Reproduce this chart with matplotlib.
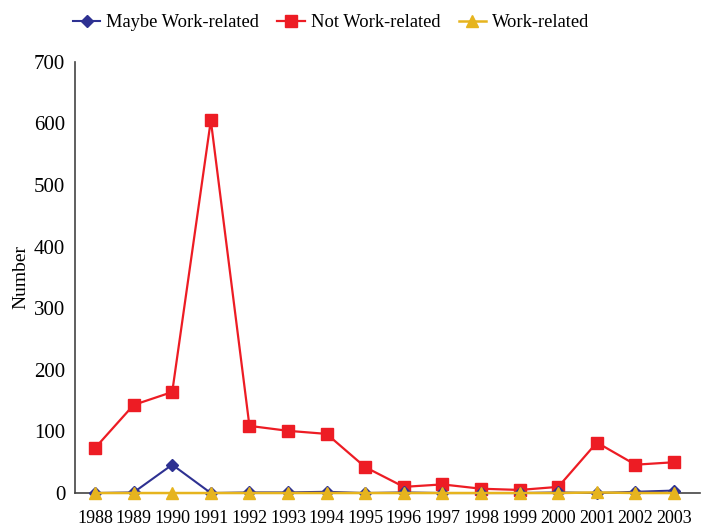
import matplotlib.pyplot as plt

years = list(range(1988, 2004))
maybe_work = [0, 1, 46, 0, 1, 1, 2, 0, 1, 0, 0, 0, 1, 0, 2, 4]
not_work = [73, 143, 164, 605, 109, 101, 96, 42, 10, 14, 7, 5, 10, 82, 46, 50]
work = [0, 0, 0, 0, 0, 0, 0, 0, 0, 0, 0, 0, 0, 1, 0, 0]

plt.rcParams["font.family"] = ["Liberation Serif", "DejaVu Serif"]

fig = plt.figure(figsize=(7.07, 5.29), dpi=100)
ax = fig.add_axes([0.106, 0.068, 0.884, 0.815])

ax.plot(years, maybe_work, color="#2E3192", marker="D", markersize=6.5, lw=1.5,
        label="Maybe Work-related", zorder=3, clip_on=False)
ax.plot(years, not_work, color="#ED1C24", marker="s", markersize=8, lw=1.6,
        label="Not Work-related", zorder=2, clip_on=False)
ax.plot(years, work, color="#E6B41E", marker="^", markersize=9, lw=1.8,
        label="Work-related", zorder=4, clip_on=False)

ax.set_xlim(1987.48, 2003.67)
ax.set_ylim(0, 700)
ax.set_xticks(years)
ax.set_xticklabels([str(y) for y in years], fontsize=13)
ax.set_yticks(range(0, 701, 100))
ax.tick_params(axis="y", labelsize=15, length=0, pad=7)
ax.tick_params(axis="x", length=0, pad=12)
ax.set_ylabel("Number", fontsize=14, labelpad=3)

for s in ["top", "right"]:
    ax.spines[s].set_visible(False)
for s in ["left", "bottom"]:
    ax.spines[s].set_color("#444444")
    ax.spines[s].set_linewidth(1.2)
    ax.spines[s].set_zorder(1)

fig.legend(loc="upper center", bbox_to_anchor=(0.468, 1.005), ncol=3, frameon=False,
           fontsize=13.3, handlelength=1.5, columnspacing=1.0, handletextpad=0.3)

fig.savefig("out.png", dpi=100)
